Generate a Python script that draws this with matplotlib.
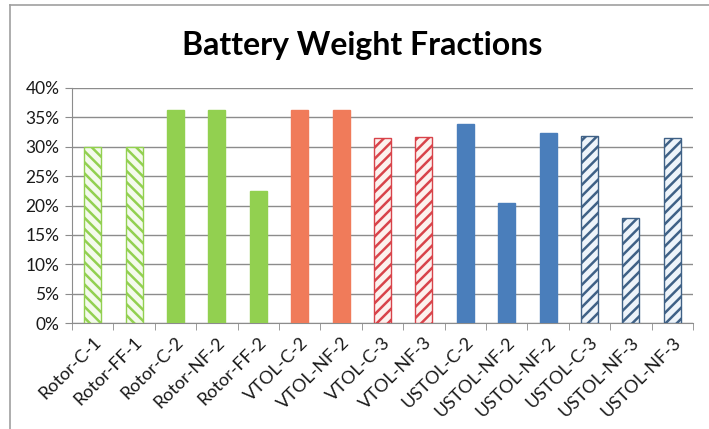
import numpy as np
import matplotlib
matplotlib.use("Agg")
import matplotlib.pyplot as plt
from matplotlib.ticker import PercentFormatter, FixedLocator

# dane
configs = ["Rotor-C-1", "Rotor-FF-1", "Rotor-C-2", "Rotor-NF-2", "Rotor-FF-2",
           "VTOL-C-2", "VTOL-NF-2", "VTOL-C-3", "VTOL-NF-3",
           "USTOL-C-2", "USTOL-NF-2", "USTOL-NF-2", "USTOL-C-3", "USTOL-NF-3", "USTOL-NF-3"]
fractions = [30.0, 30.0, 36.2, 36.2, 22.5,
             36.2, 36.2, 31.5, 31.7,
             33.9, 20.5, 32.3, 31.8, 17.8, 31.5]
groups = ["g_h", "g_h", "g", "g", "g",
          "r", "r", "r_h", "r_h",
          "b", "b", "b", "b_h", "b_h", "b_h"]

# style
green = "#92D050"
red = "#F07B5A"
blue = "#4A7EBB"
style = {
    "g":   dict(color=green, edgecolor=green, hatch=None),
    "g_h": dict(color="#F4FAEC", edgecolor=green, hatch="\\\\\\"),
    "r":   dict(color=red, edgecolor=red, hatch=None),
    "r_h": dict(color="#FCF1EE", edgecolor="#D8434A", hatch="///"),
    "b":   dict(color=blue, edgecolor=blue, hatch=None),
    "b_h": dict(color="#EEF4FA", edgecolor="#3F6186", hatch="///"),
}

plt.rcParams['font.family'] = ['Lato', 'DejaVu Sans']
plt.rcParams['hatch.linewidth'] = 1.8

fig = plt.figure(figsize=(7.09, 4.29), dpi=100)
ax = fig.add_axes([72/709, 106/429, (693-72)/709, (323-88)/429])

x = np.arange(len(configs))
for xi, v, g in zip(x, fractions, groups):
    s = style[g]
    ax.bar(xi, v, width=0.41, color=s["color"], edgecolor=s["edgecolor"],
           hatch=s["hatch"], linewidth=1.0, zorder=3)

ax.set_xlim(-0.5, len(configs) - 0.5)
ax.set_ylim(0, 40)
ax.set_yticks(np.arange(0, 41, 5))
ax.yaxis.set_major_formatter(PercentFormatter(decimals=0))
ax.grid(axis="y", color="#8C8C8C", linewidth=1.0, zorder=0)

ax.set_xticks(x)
ax.set_xticklabels(configs, rotation=45, ha="right", va="top",
                   rotation_mode="anchor", fontsize=13, color="#1A1A1A")
ax.tick_params(axis="x", which="major", length=0, pad=8)
ax.xaxis.set_minor_locator(FixedLocator(np.arange(-0.5, len(configs), 1)))
ax.tick_params(axis="x", which="minor", length=5, color="#8C8C8C")
ax.tick_params(axis="y", length=5, color="#8C8C8C", labelsize=12.5, pad=4,
               labelcolor="#1A1A1A")

for sp in ["top", "right"]:
    ax.spines[sp].set_visible(False)
for sp in ["left", "bottom"]:
    ax.spines[sp].set_color("#8C8C8C")

fig.text(362/709, 1 - 45/429, "Battery Weight Fractions", ha="center", va="center",
         fontsize=23, fontweight="bold")

# ramka wykresu
fig.add_artist(plt.Line2D([10/709, 10/709], [0, 1 - 5/429], transform=fig.transFigure,
                          color="#A0A0A0", linewidth=1.2))
fig.add_artist(plt.Line2D([10/709, 1], [1 - 5/429, 1 - 5/429], transform=fig.transFigure,
                          color="#A0A0A0", linewidth=1.2))

fig.savefig("out.png", dpi=100)
